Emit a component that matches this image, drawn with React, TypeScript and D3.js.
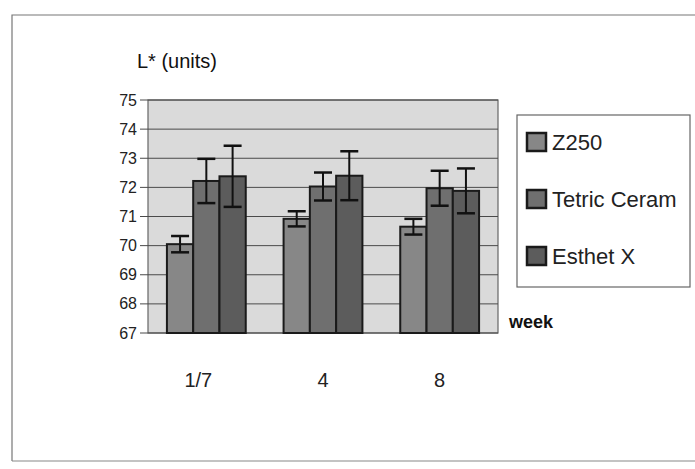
import React from "react";
import * as d3 from "d3";

const weeks = ["1/7", "4", "8"];
const series = ["Z250", "Tetric Ceram", "Esthet X"];
const means = [
  [70.05, 72.22, 72.38],
  [70.92, 72.03, 72.4],
  [70.65, 71.97, 71.88],
];
const errors = [
  [0.28, 0.76, 1.05],
  [0.26, 0.48, 0.84],
  [0.27, 0.6, 0.77],
];
const yTicks = [67, 68, 69, 70, 71, 72, 73, 74, 75];
const fills = ["#878787", "#6f6f6f", "#5c5c5c"];

const W = 695;
const H = 469;
const plot = { left: 148, top: 100, right: 498, bottom: 333 };

export default function App() {
  const x = d3.scaleBand<string>().domain(weeks).range([plot.left, plot.right]);
  const inner = d3
    .scaleBand<string>()
    .domain(series)
    .range([0, x.bandwidth()])
    .paddingInner(0)
    .paddingOuter(0.72);
  const y = d3.scaleLinear().domain([67, 75]).range([plot.bottom, plot.top]);
  const font = "Arial, 'Liberation Sans', sans-serif";

  return (
    <svg
      width={W}
      height={H}
      style={{ position: "absolute", left: 0, top: 0, background: "#fff" }}
      fontFamily={font}
    >
      {/* outer frame */}
      <path d={`M12,${H - 8} V15 H${W + 5}`} fill="none" stroke="#777" strokeWidth={1.2} />
      <line x1={12} x2={W + 5} y1={H - 8} y2={H - 8} stroke="#888" strokeWidth={1.2} />

      {/* plot background */}
      <rect
        x={plot.left}
        y={plot.top}
        width={plot.right - plot.left}
        height={plot.bottom - plot.top}
        fill="#dadada"
        stroke="#666"
        strokeWidth={1.2}
      />

      {/* gridlines and ticks */}
      {yTicks.map((t) => (
        <g key={t}>
          <line x1={plot.left - 8} x2={plot.right} y1={y(t)} y2={y(t)} stroke="#4a4a4a" strokeWidth={1} />
          <text x={137} y={y(t)} dy="0.35em" textAnchor="end" fontSize={16} fill="#222">
            {t}
          </text>
        </g>
      ))}

      {/* bars */}
      {weeks.map((w, i) => (
        <g key={w}>
          {series.map((s, j) => {
            const bx = (x(w) ?? 0) + (inner(s) ?? 0);
            const bw = inner.bandwidth();
            const v = means[i][j];
            const e = errors[i][j];
            const cx = bx + bw / 2;
            return (
              <g key={s}>
                <rect
                  x={bx}
                  y={y(v)}
                  width={bw}
                  height={plot.bottom - y(v)}
                  fill={fills[j]}
                  stroke="#1a1a1a"
                  strokeWidth={2}
                />
                <line x1={cx} x2={cx} y1={y(v + e)} y2={y(v - e)} stroke="#111" strokeWidth={2} />
                <line x1={cx - 9} x2={cx + 9} y1={y(v + e)} y2={y(v + e)} stroke="#111" strokeWidth={2.5} />
                <line x1={cx - 9} x2={cx + 9} y1={y(v - e)} y2={y(v - e)} stroke="#111" strokeWidth={2.5} />
              </g>
            );
          })}
          <text
            x={(x(w) ?? 0) + x.bandwidth() / 2 - (i === 0 ? 8 : 0)}
            y={387}
            textAnchor="middle"
            fontSize={20}
            fill="#222"
          >
            {w}
          </text>
        </g>
      ))}

      {/* axis titles */}
      <text x={137} y={68} fontSize={20} fill="#111">
        L* (units)
      </text>
      <text x={509} y={328} fontSize={18} fontWeight="bold" fill="#111">
        week
      </text>

      {/* legend */}
      <rect x={517} y={115} width={173} height={172} fill="#fff" stroke="#666" strokeWidth={1.2} />
      {series.map((s, j) => {
        const cy = 142 + j * 57;
        return (
          <g key={s}>
            <rect x={527} y={cy - 9} width={19} height={18} fill={fills[j]} stroke="#1a1a1a" strokeWidth={2.5} />
            <text x={552} y={cy} dy="0.36em" fontSize={22} fill="#222">
              {s}
            </text>
          </g>
        );
      })}
    </svg>
  );
}
